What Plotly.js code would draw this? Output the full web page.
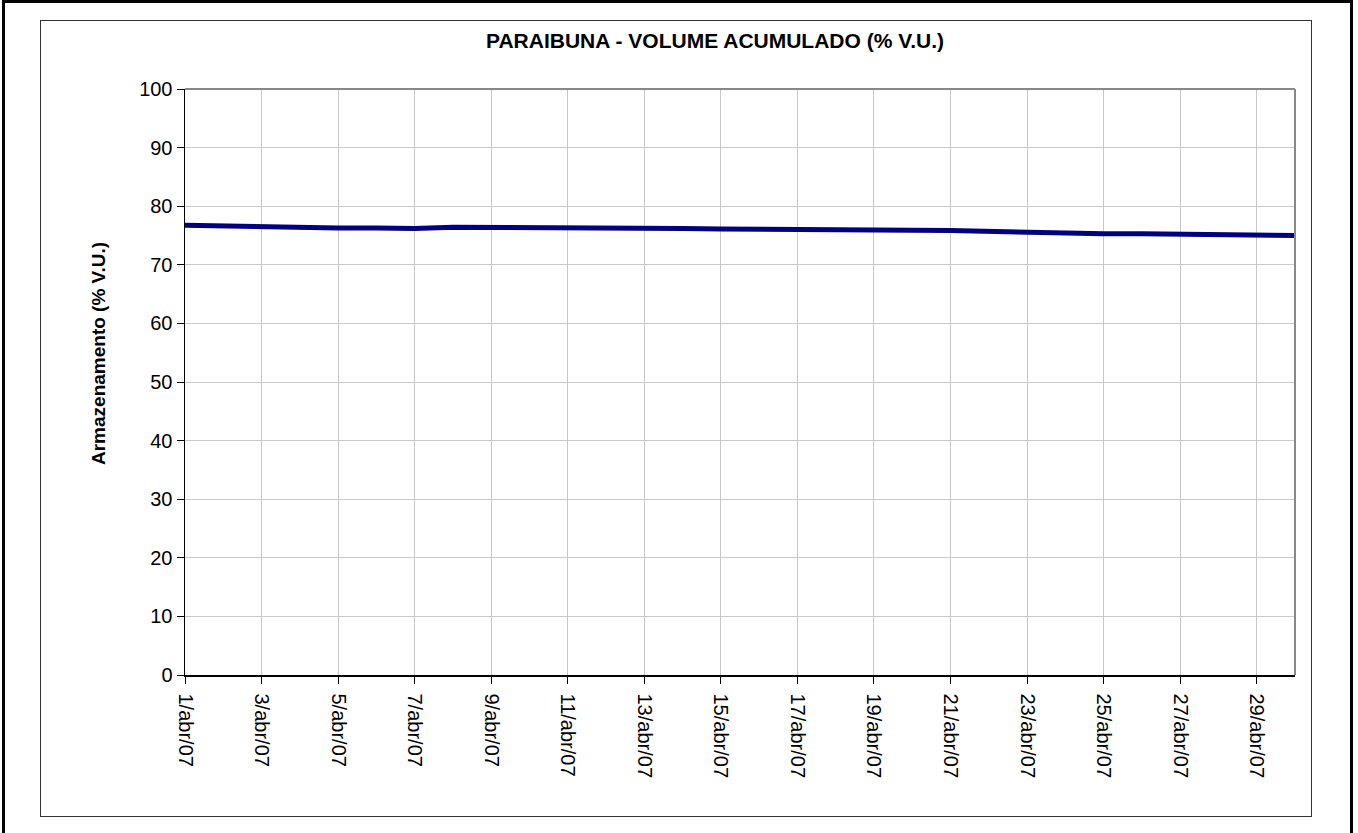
<!DOCTYPE html>
<html>
<head>
<meta charset="utf-8">
<script src="https://cdn.plot.ly/plotly-3.0.1.min.js"></script>
<style>
  html, body { margin: 0; padding: 0; background: #fff; }
  #wrap { position: relative; width: 1358px; height: 833px; overflow: hidden; }
  #chart { position: absolute; left: 0; top: 0; width: 1358px; height: 833px; }
  .outer { position: absolute; left: 2px; top: 0px; width: 1345px; height: 840px; border: 3px solid #000; pointer-events: none; }
  .inner { position: absolute; left: 40px; top: 20px; width: 1270px; height: 795px; border: 1.5px solid #333; pointer-events: none; }
</style>
</head>
<body>
<div id="wrap">
  <div id="chart"></div>
  <div class="outer"></div>
  <div class="inner"></div>
</div>
<script>
const dates = [
  '2007-04-01','2007-04-02','2007-04-03','2007-04-04','2007-04-05','2007-04-06',
  '2007-04-07','2007-04-08','2007-04-09','2007-04-10','2007-04-11','2007-04-12',
  '2007-04-13','2007-04-14','2007-04-15','2007-04-16','2007-04-17','2007-04-18',
  '2007-04-19','2007-04-20','2007-04-21','2007-04-22','2007-04-23','2007-04-24',
  '2007-04-25','2007-04-26','2007-04-27','2007-04-28','2007-04-29','2007-04-30'
];
const volume = [
  76.75, 76.6, 76.5, 76.3, 76.3, 76.3, 76.2, 76.4, 76.4, 76.4,
  76.4, 76.3, 76.3, 76.2, 76.1, 76.1, 76.1, 75.9, 75.9, 75.9,
  75.85, 75.7, 75.5, 75.45, 75.3, 75.3, 75.2, 75.1, 75.1, 75.0
];
const titleText = 'PARAIBUNA - VOLUME ACUMULADO (% V.U.)';
const yTitle = 'Armazenamento (% V.U.)';

const trace = {
  x: dates, y: volume, type: 'scatter', mode: 'lines',
  line: { color: '#000080', width: 5 },
  hoverinfo: 'skip'
};

const FONT = 'Liberation Sans, Arial, sans-serif';

const layout = {
  width: 1358, height: 833,
  margin: { l: 185, r: 63, t: 89, b: 158 },
  paper_bgcolor: '#ffffff', plot_bgcolor: '#ffffff',
  showlegend: false,
  font: { family: FONT, color: '#000', size: 20 },
  xaxis: {
    type: 'date',
    range: ['2007-04-01', '2007-04-30'],
    tick0: '2007-04-01', dtick: 2 * 86400000,
    tickformat: '%-d/abr/%y',
    tickangle: 90,
    ticks: 'outside', ticklen: 7, tickcolor: '#000', tickwidth: 1,
    ticklabelstandoff: 6,
    showline: true, linecolor: '#000', linewidth: 1.5,
    showgrid: true, gridcolor: '#c8c8c8', gridwidth: 1,
    zeroline: false,
    tickfont: { size: 20 },
    fixedrange: true
  },
  yaxis: {
    range: [0, 100],
    dtick: 10,
    ticks: 'outside', ticklen: 7, tickcolor: '#000', tickwidth: 1,
    showline: true, linecolor: '#000', linewidth: 1.5,
    showgrid: true, gridcolor: '#c8c8c8', gridwidth: 1,
    zeroline: false,
    tickfont: { size: 20 },
    fixedrange: true
  },
  annotations: [
    {
      text: '<b>' + titleText + '</b>',
      xref: 'paper', yref: 'paper',
      x: (715 - 185) / 1110, y: (675 - 41) / 586,
      xanchor: 'center', yanchor: 'middle',
      showarrow: false,
      font: { size: 21, family: FONT, color: '#000' }
    },
    {
      text: '<b>' + yTitle + '</b>',
      xref: 'paper', yref: 'paper',
      x: (98 - 185) / 1110, y: (675 - 354) / 586,
      xanchor: 'center', yanchor: 'middle',
      textangle: -90, showarrow: false,
      font: { size: 19, family: FONT, color: '#000' }
    }
  ],
  shapes: [
    { type: 'line', xref: 'paper', yref: 'paper', x0: 0, x1: 1, y0: 1, y1: 1, line: { color: '#888', width: 2 } },
    { type: 'line', xref: 'paper', yref: 'paper', x0: 1, x1: 1, y0: 0, y1: 1, line: { color: '#888', width: 2 } }
  ]
};

Plotly.newPlot('chart', [trace], layout, { displayModeBar: false, staticPlot: true });
</script>
</body>
</html>
